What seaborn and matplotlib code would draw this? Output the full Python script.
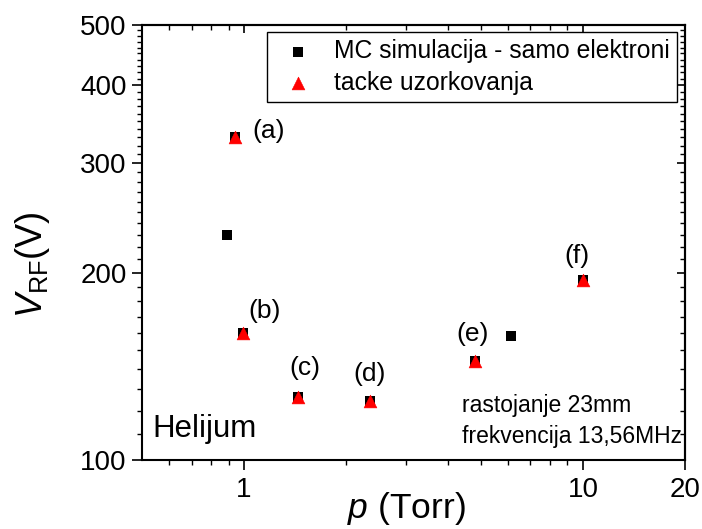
import matplotlib
matplotlib.use('Agg')
import matplotlib.pyplot as plt
import matplotlib.ticker as mticker
import seaborn as sns
import pandas as pd

# MC simulation points (squares); most of them sit under the triangles
mc_p = [0.89, 0.94, 0.99, 1.44, 2.35, 4.81, 6.13, 10.0]
mc_v = [230, 331, 160, 126.4, 124.5, 144.4, 158, 195]

# sampling points (triangles)
tp_p = [0.94, 0.99, 1.44, 2.35, 4.81, 10.0]
tp_v = [331, 160, 126.4, 124.5, 144.4, 195]
tp_labels = ['(a)', '(b)', '(c)', '(d)', '(e)', '(f)']

x_major = [1, 10, 20]
x_minor = [0.6, 0.7, 0.8, 0.9, 2, 3, 4, 5, 6, 7, 8, 9]
y_major = [100, 200, 300, 400, 500]
y_minor = [v for v in range(110, 500, 10) if v % 100]

mc = pd.DataFrame({'p': mc_p, 'V': mc_v})
tp = pd.DataFrame({'p': tp_p, 'V': tp_v})

sns.set_style('white')
plt.rcParams['font.family'] = ['Liberation Sans', 'DejaVu Sans']
plt.rcParams['mathtext.fontset'] = 'custom'
plt.rcParams['mathtext.rm'] = 'Liberation Sans'
plt.rcParams['mathtext.it'] = 'Liberation Sans:italic'
for k in ['text.color', 'axes.labelcolor', 'xtick.color', 'ytick.color', 'axes.edgecolor']:
    plt.rcParams[k] = 'black'

fig = plt.figure(figsize=(7.02, 5.29), dpi=100)
ax = fig.add_axes([0.2023, 0.1304, 0.7735, 0.8223])

sns.scatterplot(data=mc, x='p', y='V', marker='s', s=45, color='black', edgecolor='black',
                linewidth=0, label='MC simulacija - samo elektroni', ax=ax, zorder=3)
sns.scatterplot(data=tp, x='p', y='V', marker='^', s=85, color='red', edgecolor='red',
                linewidth=0.4, label='tacke uzorkovanja', ax=ax, zorder=4)

ax.set_xscale('log')
ax.set_yscale('log')
ax.set_xlim(0.5, 20)
ax.set_ylim(100, 500)


def set_ticks(axis, major, minor):
    axis.set_major_locator(mticker.FixedLocator(major))
    axis.set_major_formatter(mticker.FixedFormatter([str(v) for v in major]))
    axis.set_minor_locator(mticker.FixedLocator(minor))
    axis.set_minor_formatter(mticker.NullFormatter())


set_ticks(ax.xaxis, x_major, x_minor)
set_ticks(ax.yaxis, y_major, y_minor)

ax.tick_params(which='both', direction='out', left=True, bottom=True, right=False, top=False)
ax.tick_params(which='major', length=7, width=1.2, labelsize=20)
ax.tick_params(which='minor', length=3.8, width=1.0)
ax.tick_params(axis='x', which='major', pad=5)
ax.tick_params(axis='y', which='major', pad=4)

# inward ticks on top and right
top = ax.secondary_xaxis('top')
set_ticks(top.xaxis, x_major, x_minor)
top.tick_params(which='both', direction='in', labeltop=False)
top.tick_params(which='major', length=6, width=1.2)
top.tick_params(which='minor', length=3.5, width=1.0)
right = ax.secondary_yaxis('right')
set_ticks(right.yaxis, y_major, y_minor)
right.tick_params(which='both', direction='in', labelright=False)
right.tick_params(which='major', length=6, width=1.2)
right.tick_params(which='minor', length=3.5, width=1.0)

for a in [ax, top, right]:
    for sp in a.spines.values():
        sp.set_color('black')
        sp.set_linewidth(1.5)

ax.set_xlabel('$p$ (Torr)', fontsize=25.5)
ax.xaxis.set_label_coords(0.486, -0.1126)
ax.xaxis.label.set_va('center')
ax.set_ylabel(r'$V_{\mathrm{RF}}$(V)', fontsize=26)
ax.yaxis.set_label_coords(-0.2017, 0.45)
ax.yaxis.label.set_va('center')

offsets = [(24, 4), (16, 16), (5, 21), (0, 19), (-2, 19), (-4, 17)]
for x, y, lab, off in zip(tp_p, tp_v, tp_labels, offsets):
    ax.annotate(lab, (x, y), xytext=off, textcoords='offset points',
                ha='center', va='center', fontsize=19)

ax.text(0.02, 0.071, 'Helijum', transform=ax.transAxes, fontsize=22.5, va='center', ha='left')
ax.text(0.589, 0.126, 'rastojanje 23mm', transform=ax.transAxes, fontsize=16.5, va='center', ha='left')
ax.text(0.589, 0.053, 'frekvencija 13,56MHz', transform=ax.transAxes, fontsize=16.5, va='center', ha='left')

leg = ax.legend(loc='upper right', bbox_to_anchor=(0.985, 0.984), fontsize=17.8, frameon=True,
                fancybox=False, edgecolor='black', framealpha=1, borderpad=0.3,
                labelspacing=0.3, handletextpad=0.5, borderaxespad=0, handlelength=1.9)
leg.get_frame().set_linewidth(1.0)

fig.savefig('out.png', dpi=100)
